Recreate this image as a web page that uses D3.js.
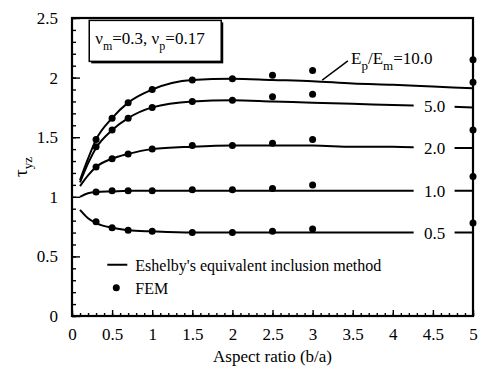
<!DOCTYPE html>
<html>
<head>
<meta charset="utf-8">
<script src="https://cdn.jsdelivr.net/npm/d3@7"></script>
<style>
  body { margin: 0; background: #fff; }
  svg text { font-family: "Liberation Serif", serif; fill: #000; }
</style>
</head>
<body>
<script>
// Eshelby's equivalent inclusion method curves
const xEsh = [0.1, 0.2, 0.3, 0.5, 0.7, 1, 1.5, 2, 2.5, 3, 3.5, 4, 4.5, 5];
const esh10 = [1.14, 1.32, 1.48, 1.66, 1.79, 1.90, 1.98, 1.99, 1.98, 1.97, 1.95, 1.94, 1.925, 1.91];
const esh5 = [1.12, 1.28, 1.41, 1.56, 1.66, 1.75, 1.80, 1.81, 1.80, 1.79, 1.78, 1.77, 1.76, 1.75];
const esh2 = [1.09, 1.18, 1.25, 1.32, 1.36, 1.40, 1.42, 1.43, 1.43, 1.43, 1.42, 1.42, 1.41, 1.41];
const esh1 = [1.00, 1.03, 1.04, 1.045, 1.05, 1.05, 1.05, 1.05, 1.05, 1.05, 1.05, 1.05, 1.05, 1.05];
const esh05 = [0.89, 0.82, 0.78, 0.74, 0.72, 0.71, 0.70, 0.70, 0.70, 0.70, 0.70, 0.70, 0.70, 0.70];

// FEM results
const xFem = [0.3, 0.5, 0.7, 1, 1.5, 2, 2.5, 3, 5];
const fem10 = [1.48, 1.66, 1.79, 1.90, 1.98, 1.99, 2.02, 2.06, 2.15];
const fem5 = [1.42, 1.56, 1.66, 1.75, 1.80, 1.81, 1.84, 1.86, 1.96];
const fem2 = [1.25, 1.32, 1.36, 1.40, 1.43, 1.43, 1.45, 1.48, 1.56];
const fem1 = [1.04, 1.05, 1.05, 1.05, 1.06, 1.06, 1.07, 1.10, 1.17];
const fem05 = [0.79, 0.74, 0.72, 0.71, 0.70, 0.70, 0.71, 0.73, 0.78];

const ratioLabels = ['10.0', '5.0', '2.0', '1.0', '0.5'];
const xTicks = [0, 0.5, 1, 1.5, 2, 2.5, 3, 3.5, 4, 4.5, 5];
const yTicks = [0, 0.5, 1, 1.5, 2, 2.5];

const W = 481, H = 366;
const m = { left: 72, right: 8, top: 18, bottom: 50 };
const serif = '"Liberation Serif", serif';

const svg = d3.select('body').append('svg')
  .attr('width', W)
  .attr('height', H)
  .attr('font-family', serif);

const x = d3.scaleLinear().domain([0, 5]).range([m.left, W - m.right]);
const y = d3.scaleLinear().domain([0, 2.5]).range([H - m.bottom, m.top]);

const series = [
  { esh: esh10, fem: fem10, label: ratioLabels[0] },
  { esh: esh5, fem: fem5, label: ratioLabels[1] },
  { esh: esh2, fem: fem2, label: ratioLabels[2] },
  { esh: esh1, fem: fem1, label: ratioLabels[3] },
  { esh: esh05, fem: fem05, label: ratioLabels[4] }
];

// minor + major ticks, pointing inward
const minorX = d3.range(0, 5.001, 0.1);
const minorY = d3.range(0, 2.501, 0.1);

svg.append('g')
  .attr('transform', `translate(0,${y(0)})`)
  .call(d3.axisBottom(x).tickValues(minorX).tickSize(-3).tickFormat(''))
  .call(g => g.select('.domain').remove());

svg.append('g')
  .attr('transform', `translate(${x(0)},0)`)
  .call(d3.axisLeft(y).tickValues(minorY).tickSize(-4).tickFormat(''))
  .call(g => g.select('.domain').remove());

const xAxis = svg.append('g')
  .attr('transform', `translate(0,${y(0)})`)
  .call(d3.axisBottom(x).tickValues(xTicks).tickSize(-6).tickPadding(21).tickFormat(d3.format('')));
xAxis.select('.domain').remove();

const yAxis = svg.append('g')
  .attr('transform', `translate(${x(0)},0)`)
  .call(d3.axisLeft(y).tickValues(yTicks).tickSize(-8).tickPadding(14).tickFormat(d3.format('')));
yAxis.select('.domain').remove();

svg.selectAll('g').attr('font-family', serif);
svg.selectAll('.tick line').attr('stroke', '#000').attr('stroke-width', 1.4);
svg.selectAll('.tick text')
  .style('font-family', serif)
  .style('font-size', '17px');
xAxis.selectAll('.tick text').attr('dy', '0.2em');

// frame
svg.append('rect')
  .attr('x', x(0)).attr('y', y(2.5))
  .attr('width', x(5) - x(0)).attr('height', y(0) - y(2.5))
  .attr('fill', 'none').attr('stroke', '#000').attr('stroke-width', 2.2);

// curves
const line = d3.line()
  .x((d, i) => x(xEsh[i]))
  .y(d => y(d))
  .curve(d3.curveMonotoneX);

svg.selectAll('.esh')
  .data(series)
  .enter()
  .append('path')
  .attr('class', 'esh')
  .attr('d', d => line(d.esh))
  .attr('fill', 'none')
  .attr('stroke', '#000')
  .attr('stroke-width', 2);

// in-line labels for the lower four curves
const inline = series.slice(1);
const labG = svg.selectAll('.lab')
  .data(inline)
  .enter()
  .append('g')
  .attr('class', 'lab');

labG.append('rect')
  .attr('x', x(4.26))
  .attr('width', x(4.77) - x(4.26))
  .attr('y', d => y(d.esh[12]) - 8)
  .attr('height', 16)
  .attr('fill', '#fff');

labG.append('text')
  .attr('x', x(4.52))
  .attr('y', d => y(d.esh[12]))
  .attr('dy', '0.36em')
  .attr('text-anchor', 'middle')
  .style('font-size', '17px')
  .text(d => d.label);

// label for the top curve, with leader line
svg.append('line')
  .attr('x1', x(3.12)).attr('y1', y(esh10[9]) - 1)
  .attr('x2', x(3.44)).attr('y2', y(2.14))
  .attr('stroke', '#000').attr('stroke-width', 1.4);

const topLab = svg.append('text')
  .attr('x', x(3.48))
  .attr('y', y(2.11))
  .style('font-size', '17px');
topLab.append('tspan').text('E');
topLab.append('tspan').attr('dy', 6).style('font-size', '13px').text('p');
topLab.append('tspan').attr('dy', -6).text('/E');
topLab.append('tspan').attr('dy', 6).style('font-size', '13px').text('m');
topLab.append('tspan').attr('dy', -6).text('=10.0');

// FEM dots
svg.selectAll('.femg')
  .data(series)
  .enter()
  .append('g')
  .attr('class', 'femg')
  .selectAll('circle')
  .data(d => d.fem)
  .enter()
  .append('circle')
  .attr('cx', (d, i) => x(xFem[i]))
  .attr('cy', d => y(d))
  .attr('r', 3.5)
  .attr('fill', '#000');

// Poisson ratio box
const bx = x(0.215), by = y(2.48), bw = 132, bh = 41;
svg.append('rect')
  .attr('x', bx + 2).attr('y', by + 2)
  .attr('width', bw).attr('height', bh)
  .attr('fill', '#000');
svg.append('rect')
  .attr('x', bx).attr('y', by)
  .attr('width', bw).attr('height', bh)
  .attr('fill', '#fff').attr('stroke', '#000').attr('stroke-width', 1.5);

const nu = svg.append('text')
  .attr('x', bx + 6)
  .attr('y', by + 24)
  .style('font-size', '17px');
nu.append('tspan').text('ν');
nu.append('tspan').attr('dy', 6).style('font-size', '12px').text('m');
nu.append('tspan').attr('dy', -6).text('=0.3, ν');
nu.append('tspan').attr('dy', 6).style('font-size', '12px').text('p');
nu.append('tspan').attr('dy', -6).text('=0.17');

// legend
const lgX = x(0.44), lgY = y(0.43);
svg.append('line')
  .attr('x1', lgX).attr('x2', lgX + 20)
  .attr('y1', lgY).attr('y2', lgY)
  .attr('stroke', '#000').attr('stroke-width', 2);
svg.append('text')
  .attr('x', lgX + 28).attr('y', lgY + 6)
  .style('font-size', '16px')
  .text("Eshelby's equivalent inclusion method");
svg.append('circle')
  .attr('cx', lgX + 9).attr('cy', lgY + 23)
  .attr('r', 3.5).attr('fill', '#000');
svg.append('text')
  .attr('x', lgX + 28).attr('y', lgY + 29)
  .style('font-size', '16px')
  .text('FEM');

// axis titles
svg.append('text')
  .attr('x', (x(0) + x(5)) / 2)
  .attr('y', H - 4)
  .attr('text-anchor', 'middle')
  .style('font-size', '17px')
  .text('Aspect ratio (b/a)');

const yt = svg.append('text')
  .attr('transform', `translate(27,${(y(0) + y(2.5)) / 2}) rotate(-90)`)
  .attr('text-anchor', 'middle')
  .style('font-size', '19px');
yt.append('tspan').text('τ');
yt.append('tspan').attr('dy', 5).style('font-size', '13px').text('yz');
</script>
</body>
</html>
